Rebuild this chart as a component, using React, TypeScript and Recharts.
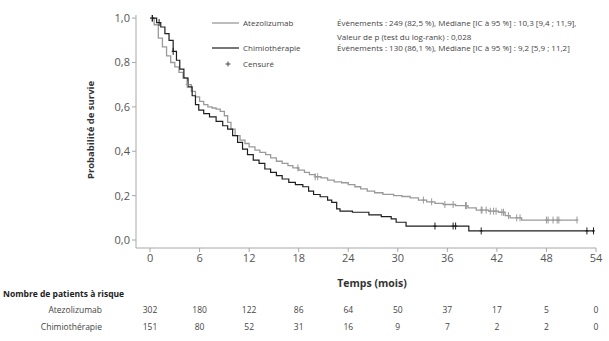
import { ComposedChart, Line, Scatter, XAxis, YAxis } from "recharts";

const FONT = "'Open Sans', 'Noto Sans', sans-serif";

const MONTH_TICKS = [0, 6, 12, 18, 24, 30, 36, 42, 48, 54];
const SURV_TICKS = [0, 0.2, 0.4, 0.6, 0.8, 1.0];

// Kaplan-Meier steps (time in months, survival probability)
const ATEZO_T = [
  0, 0.5, 1.0, 1.5, 2.0, 2.5, 3.0, 3.5, 4.0, 4.5, 5.0, 5.5, 6.0, 6.5, 7.0, 7.5,
  8.0, 8.5, 9.0, 9.4, 9.8, 10.3, 10.9, 11.5, 12.0, 12.7, 13.3, 14.0, 14.6, 15.3,
  16.0, 16.7, 17.3, 18.0, 18.7, 19.3, 20.0, 20.7, 21.5, 22.3, 23.2, 24.0, 24.8,
  25.5, 26.3, 27.2, 28.2, 29.5, 30.5, 31.5, 32.5, 33.5, 34.5, 35.5, 37.0, 38.5,
  39.5, 41.0, 42.2, 43.0, 43.6, 45.0, 51.7,
];
const ATEZO_S = [
  1.0, 0.97, 0.91, 0.87, 0.83, 0.8, 0.78, 0.755, 0.73, 0.7, 0.67, 0.645, 0.625,
  0.61, 0.6, 0.595, 0.59, 0.58, 0.56, 0.53, 0.5, 0.47, 0.45, 0.435, 0.42, 0.405,
  0.395, 0.385, 0.37, 0.355, 0.345, 0.335, 0.325, 0.315, 0.305, 0.295, 0.285,
  0.28, 0.27, 0.262, 0.258, 0.25, 0.24, 0.23, 0.22, 0.213, 0.206, 0.2, 0.196,
  0.19, 0.18, 0.172, 0.165, 0.16, 0.155, 0.145, 0.135, 0.13, 0.125, 0.11, 0.1,
  0.09, 0.09,
];
const CHEMO_T = [
  0, 0.8, 1.3, 1.8, 2.3, 2.8, 3.2, 3.6, 4.1, 4.6, 5.1, 5.5, 5.9, 6.5, 7.2, 8.0,
  8.8, 9.4, 10.0, 10.6, 11.2, 11.8, 12.5, 13.2, 13.9, 14.6, 15.3, 16.0, 16.8,
  17.6, 18.5, 19.2, 19.8, 20.6, 21.5, 22.0, 22.6, 23.0, 24.5, 26.5, 28.0, 29.2,
  29.8, 31.0, 38.6, 53.7,
];
const CHEMO_S = [
  1.0, 0.98, 0.96, 0.93, 0.9, 0.85, 0.81, 0.77, 0.73, 0.69, 0.65, 0.61, 0.585,
  0.57, 0.555, 0.535, 0.515, 0.5, 0.47, 0.44, 0.41, 0.385, 0.36, 0.345, 0.32,
  0.305, 0.29, 0.275, 0.26, 0.25, 0.24, 0.22, 0.205, 0.195, 0.18, 0.17, 0.14,
  0.13, 0.125, 0.113, 0.105, 0.095, 0.08, 0.063, 0.041, 0.041,
];

// censored observations (months)
const ATEZO_CENSOR = [
  0.2, 4.5, 17.9, 20.0, 20.3, 33.1, 34.1, 35.7, 36.7, 38.2, 38.3, 40.1, 40.2,
  40.7, 41.2, 41.6, 41.9, 42.6, 42.8, 43.4, 44.4, 44.8, 48.0, 48.2, 48.8, 49.3,
  49.5, 51.7,
];
const CHEMO_CENSOR = [0.3, 1.1, 2.8, 34.5, 36.7, 37.0, 40.1, 52.9, 53.7];

const RISK_ATEZO = [302, 180, 122, 86, 64, 50, 37, 17, 5, 0];
const RISK_CHEMO = [151, 80, 52, 31, 16, 9, 7, 2, 2, 0];

const W = 609;
const H = 341;
const X_DOMAIN = [-1.7, 54];
const Y_DOMAIN = [-0.036, 1.014];
const MARGIN = { top: 15, right: 13, left: 96, bottom: 63 };
const Y_AXIS_W = 40;
const PLOT_L = MARGIN.left + Y_AXIS_W;
const PLOT_R = W - MARGIN.right;

const GRAY = "#9a9a9a";
const BLACK = "#1e1e1e";
const TEXT = "#444";

function toRows(ts: number[], ss: number[]) {
  return ts.map((t, i) => ({ t, s: ss[i] }));
}

function survivalAt(ts: number[], ss: number[], t: number) {
  let s = ss[0];
  for (let i = 0; i < ts.length; i++) {
    if (ts[i] <= t) s = ss[i];
  }
  return s;
}

function censorRows(ts: number[], ss: number[], cs: number[]) {
  return cs.map((t) => ({ t, s: survivalAt(ts, ss, t) }));
}

function xPos(t: number) {
  return PLOT_L + ((t - X_DOMAIN[0]) / (X_DOMAIN[1] - X_DOMAIN[0])) * (PLOT_R - PLOT_L);
}

function Cross(color: string) {
  return (props: any) => {
    const { cx, cy } = props;
    if (cx == null || cy == null) return null;
    return (
      <path
        d={`M${cx - 1.5},${cy}H${cx + 1.5}M${cx},${cy - 3.5}V${cy + 3.5}`}
        stroke={color}
        strokeWidth={1}
        fill="none"
      />
    );
  };
}

const fmt = (v: number) => v.toFixed(1).replace(".", ",");

export default function App() {
  const atezo = toRows(ATEZO_T, ATEZO_S);
  const chemo = toRows(CHEMO_T, CHEMO_S);
  const atezoC = censorRows(ATEZO_T, ATEZO_S, ATEZO_CENSOR);
  const chemoC = censorRows(CHEMO_T, CHEMO_S, CHEMO_CENSOR);
  const tick = { fontSize: 11, fill: "#555", fontFamily: FONT };

  return (
    <div style={{ position: "absolute", left: 0, top: 0, width: W, height: H, background: "#fff" }}>
      <ComposedChart width={W} height={H} margin={MARGIN}>
        <XAxis
          dataKey="t"
          type="number"
          domain={X_DOMAIN}
          ticks={MONTH_TICKS}
          allowDataOverflow
          height={30}
          tick={tick}
          tickSize={4}
          stroke="#a8a8a8"
          tickLine={{ stroke: "#a8a8a8" }}
        />
        <YAxis
          type="number"
          domain={Y_DOMAIN}
          ticks={SURV_TICKS}
          allowDataOverflow
          width={Y_AXIS_W}
          tick={tick}
          tickSize={4}
          tickFormatter={fmt}
          stroke="#a8a8a8"
          tickLine={{ stroke: "#a8a8a8" }}
        />
        <Line data={atezo} dataKey="s" type="stepAfter" stroke={GRAY} strokeWidth={1.3} dot={false} isAnimationActive={false} />
        <Line data={chemo} dataKey="s" type="stepAfter" stroke={BLACK} strokeWidth={1.2} dot={false} isAnimationActive={false} />
        <Scatter data={atezoC} dataKey="s" shape={Cross(GRAY)} isAnimationActive={false} />
        <Scatter data={chemoC} dataKey="s" shape={Cross(BLACK)} isAnimationActive={false} />
      </ComposedChart>

      <svg
        width={W}
        height={H}
        style={{ position: "absolute", left: 0, top: 0, pointerEvents: "none" }}
        fontFamily={FONT}
      >
        <text
          transform="translate(94,130) rotate(-90)"
          textAnchor="middle"
          fontSize={9.5}
          fontWeight={700}
          fill="#333"
        >
          Probabilité de survie
        </text>
        <text x={372} y={287} textAnchor="middle" fontSize={10.5} fontWeight={700} fill="#333">
          Temps (mois)
        </text>

        {/* legend */}
        <line x1={212} x2={239} y1={23} y2={23} stroke={GRAY} strokeWidth={1.3} />
        <line x1={212} x2={239} y1={48} y2={48} stroke={BLACK} strokeWidth={1.2} />
        <path d="M225.5,64H230.5M228,61.5V66.5" stroke={TEXT} strokeWidth={1} />
        <g fontSize={8} fill={TEXT}>
          <text x={243} y={26}>Atezolizumab</text>
          <text x={243} y={51}>Chimiothérapie</text>
          <text x={243} y={67}>Censuré</text>
          <text x={337} y={26}>Évènements : 249 (82,5 %), Médiane [IC à 95 %] : 10,3 [9,4 ; 11,9],</text>
          <text x={337} y={40}>Valeur de p (test du log-rank) : 0,028</text>
          <text x={337} y={51}>Évènements : 130 (86,1 %), Médiane [IC à 95 %] : 9,2 [5,9 ; 11,2]</text>
        </g>

        {/* number at risk */}
        <text x={3} y={297} fontSize={8.5} fontWeight={700} fill="#222">
          Nombre de patients à risque
        </text>
        <g fontSize={8.5} fill={TEXT}>
          <text x={102} y={313} textAnchor="end">Atezolizumab</text>
          <text x={102} y={330} textAnchor="end">Chimiothérapie</text>
          {RISK_ATEZO.map((n, i) => (
            <text key={`a${i}`} x={xPos(MONTH_TICKS[i])} y={313} textAnchor="middle">
              {n}
            </text>
          ))}
          {RISK_CHEMO.map((n, i) => (
            <text key={`c${i}`} x={xPos(MONTH_TICKS[i])} y={330} textAnchor="middle">
              {n}
            </text>
          ))}
        </g>
      </svg>
    </div>
  );
}
